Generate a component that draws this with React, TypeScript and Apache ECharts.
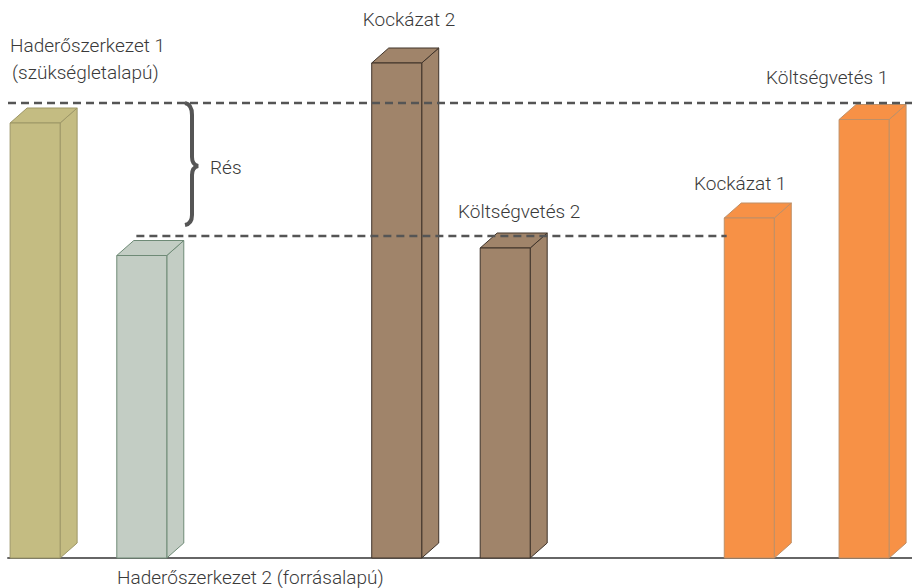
import React, { useEffect, useRef } from "react";
import * as echarts from "echarts";

// ---- data ----
const categories = [
  "Haderőszerkezet 1 (szükségletalapú)",
  "Haderőszerkezet 2 (forrásalapú)",
  "Kockázat 2",
  "Költségvetés 2",
  "Kockázat 1",
  "Költségvetés 1",
];
const barPositions = [3, 14.8, 43, 55, 82, 94.7];
const barValues = [87, 60.5, 99, 62, 68, 87.7];
const upperLevel = 91;
const lowerLevel = 64.4;
const lowerLineRange = [14.2, 79.5];

// ---- styles ----
const faceColors = ["#c4bc82", "#c3cdc4", "#a0846a", "#a0846a", "#f79146", "#f79146"];
const edgeColors = ["#9d9767", "#6e8a76", "#3f3329", "#3f3329", "#bf8f66", "#bf8f66"];
const BAR_W = 50;
const DX = 17;
const DY = 15;
const FONT = '300 19px Roboto, "Liberation Sans", sans-serif';
const TXT = "#3a3a3a";

echarts.graphic.registerShape(
  "brace",
  echarts.graphic.extendPath(
    "M2,0 C7,1 9,5 9,12 L9,54 C9,59 11,62 15,63 C11,64 9,67 9,72 L9,112 C9,118 7,121 2,122",
    {}
  ) as any
);

export default function App() {
  const ref = useRef<HTMLDivElement>(null);
  useEffect(() => {
    document.body.style.margin = "0";
    if (!ref.current) return;
    const chart = echarts.init(ref.current, null, { renderer: "svg" });
    const data = barPositions.map((x, i) => [x, barValues[i], i]);
    const option: any = {
      animation: false,
      grid: { left: 8, right: 0, top: 58, bottom: 30 },
      xAxis: {
        type: "value",
        min: 0,
        max: 100,
        axisLine: { show: true, lineStyle: { color: "#666", width: 2 } },
        axisTick: { show: false },
        axisLabel: { show: false },
        splitLine: { show: false },
      },
      yAxis: {
        type: "value",
        min: 0,
        max: 100,
        axisLine: { show: false },
        axisTick: { show: false },
        axisLabel: { show: false },
        splitLine: { show: false },
      },
      series: [
        {
          type: "custom",
          name: "bars",
          data,
          z: 2,
          renderItem: (params: any, api: any) => {
            const x = api.value(0);
            const v = api.value(1);
            const idx = api.value(2);
            const top = api.coord([x, v]);
            const bot = api.coord([x, 0]);
            const l = top[0] - BAR_W / 2;
            const r = top[0] + BAR_W / 2;
            const t = top[1];
            const b = bot[1];
            const style = {
              fill: faceColors[idx],
              stroke: edgeColors[idx],
              lineWidth: 1,
            };
            return {
              type: "group",
              children: [
                {
                  type: "polygon",
                  shape: {
                    points: [
                      [r, t],
                      [r + DX, t - DY],
                      [r + DX, b - DY],
                      [r, b],
                    ],
                  },
                  style,
                },
                {
                  type: "polygon",
                  shape: {
                    points: [
                      [l, t],
                      [l + DX, t - DY],
                      [r + DX, t - DY],
                      [r, t],
                    ],
                  },
                  style,
                },
                {
                  type: "rect",
                  shape: { x: l, y: t, width: BAR_W, height: b - t },
                  style,
                },
              ],
            };
          },
        },
        {
          type: "line",
          name: "upper",
          z: 5,
          symbol: "none",
          data: [
            [0, upperLevel],
            [100, upperLevel],
          ],
          lineStyle: { color: "#555", width: 2.5, type: [8, 5] },
        },
        {
          type: "line",
          name: "lower",
          z: 5,
          symbol: "none",
          data: [
            [lowerLineRange[0], lowerLevel],
            [lowerLineRange[1], lowerLevel],
          ],
          lineStyle: { color: "#555", width: 2.5, type: [8, 5] },
        },
      ],
    };
    chart.setOption(option);

    const yTop = chart.convertToPixel({ gridIndex: 0 }, [0, upperLevel])[1];
    const yLow = chart.convertToPixel({ gridIndex: 0 }, [0, lowerLevel])[1];
    const braceH = yLow - yTop - 11;
    const txt = (text: string, x: number, y: number, align = "left") => ({
      type: "text",
      x,
      y,
      z: 10,
      style: { text, font: FONT, fill: TXT, align, verticalAlign: "middle" },
    });
    chart.setOption({
      graphic: [
        {
          type: "brace",
          x: 183,
          y: yTop,
          scaleY: braceH / 122,
          z: 10,
          style: { stroke: "#555", fill: "none", lineWidth: 4, strokeNoScale: true },
        },
        txt("Rés", 210, (yTop + yTop + braceH) / 2 + 3),
        txt("Haderőszerkezet 1", 10, 45),
        txt("(szükségletalapú)", 12, 72),
        txt("Kockázat 2", 409, 19, "center"),
        txt("Költségvetés 2", 458, 211),
        txt("Kockázat 1", 694, 183),
        txt("Költségvetés 1", 766, 77),
        txt("Haderőszerkezet 2 (forrásalapú)", 117, 577),
      ],
    });
    return () => chart.dispose();
  }, []);
  return <div ref={ref} style={{ width: 912, height: 588 }} />;
}
